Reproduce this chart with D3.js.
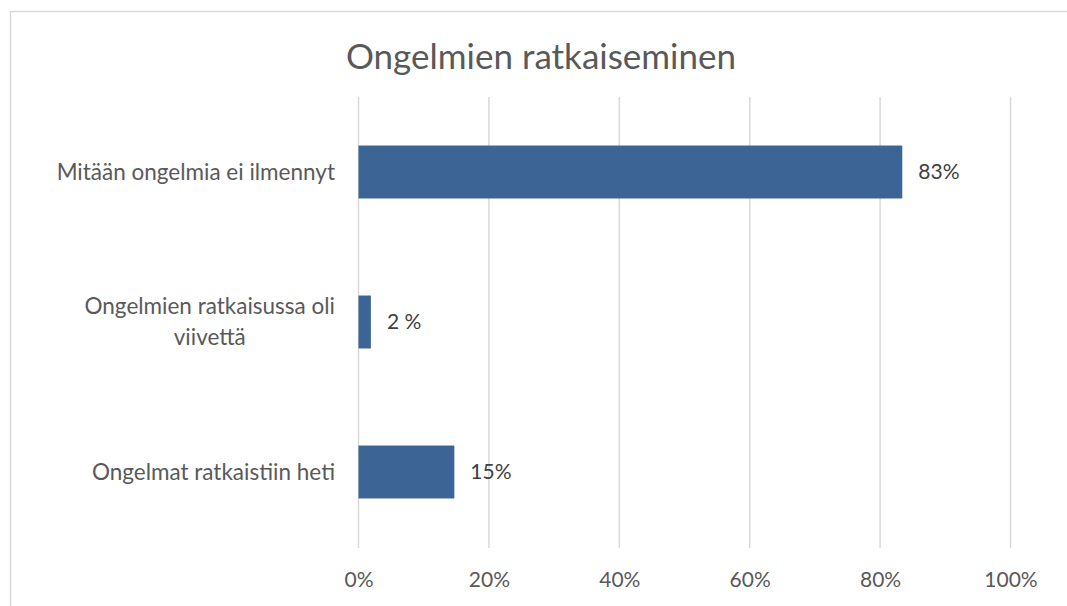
<!DOCTYPE html>
<html>
<head>
<meta charset="utf-8">
<script src="https://cdn.jsdelivr.net/npm/d3@7"></script>
<style>
  body { margin: 0; background: #fff; }
  svg { display: block; font-family: Lato, "Open Sans", sans-serif; }
</style>
</head>
<body>
<svg id="chart" width="1067" height="606"></svg>
<script>
// chart data
var chartTitle = "Ongelmien ratkaiseminen";
var categories = ["Mitään ongelmia ei ilmennyt", "Ongelmien ratkaisussa oli viivettä", "Ongelmat ratkaistiin heti"];
var values = [0.834, 0.019, 0.147];
var valueLabels = ["83%", "2 %", "15%"];
var ticks = [0, 0.2, 0.4, 0.6, 0.8, 1];

var svg = d3.select("#chart");
var grey = "#595959";

// outer frame of the chart (runs off the right/bottom of the picture)
svg.append("rect")
    .attr("x", 10.5).attr("y", 11.5)
    .attr("width", 1100).attr("height", 700)
    .attr("fill", "none").attr("stroke", "#d9d9d9").attr("stroke-width", 1.5);

var x = d3.scaleLinear().domain([0, 1]).range([358.5, 1010.5]);
var y = d3.scaleBand().domain(categories).range([97, 547])
    .paddingInner(0.647).paddingOuter(0.3235);

// vertical gridlines
svg.append("g").selectAll("line").data(ticks).enter()
    .append("line")
    .attr("x1", function(d) { return x(d); })
    .attr("x2", function(d) { return x(d); })
    .attr("y1", 97).attr("y2", 548)
    .attr("stroke", "#d9d9d9").attr("stroke-width", 1.5);

// x axis labels
var xAxis = d3.axisBottom(x).tickValues(ticks).tickFormat(d3.format(".0%")).tickSize(0).tickPadding(0);
var gx = svg.append("g").attr("transform", "translate(0,580)").call(xAxis);
gx.select(".domain").remove();
gx.selectAll("text")
    .attr("dy", "0.35em")
    .attr("fill", grey)
    .style("font-size", "21px")
    .style("font-family", "Lato, 'Open Sans', sans-serif");

// bars
svg.append("g").selectAll("rect").data(values).enter()
    .append("rect")
    .attr("x", x(0))
    .attr("y", function(d, i) { return y(categories[i]); })
    .attr("width", function(d) { return x(d) - x(0); })
    .attr("height", y.bandwidth())
    .attr("fill", "#3c6494");

// value labels
svg.append("g").selectAll("text").data(values).enter()
    .append("text")
    .attr("x", function(d) { return x(d) + 16; })
    .attr("y", function(d, i) { return y(categories[i]) + y.bandwidth() / 2; })
    .attr("dy", "0.35em")
    .attr("fill", "#404040")
    .style("font-size", "21px")
    .text(function(d, i) { return valueLabels[i]; });

// category labels, wrapped like excel does
var labelRight = 335;
var maxLabelWidth = 280;
var lineHeight = 31;
var catG = svg.append("g");
categories.forEach(function(c) {
    var t = catG.append("text")
        .attr("fill", grey)
        .style("font-size", "22.5px");
    var words = c.split(" ");
    var lines = [];
    var line = [];
    var probe = t.append("tspan");
    words.forEach(function(w) {
        line.push(w);
        probe.text(line.join(" "));
        if (probe.node().getComputedTextLength() > maxLabelWidth && line.length > 1) {
            line.pop();
            lines.push(line.join(" "));
            line = [w];
        }
    });
    lines.push(line.join(" "));
    probe.remove();

    var cy = y(c) + y.bandwidth() / 2;
    var top = cy - (lines.length - 1) * lineHeight / 2;
    var spans = lines.map(function(l, i) {
        return t.append("tspan").attr("y", top + i * lineHeight).attr("dy", "0.35em").text(l);
    });
    if (lines.length == 1) {
        t.attr("text-anchor", "end");
        spans[0].attr("x", labelRight);
    } else {
        var w = d3.max(spans, function(s) { return s.node().getComputedTextLength(); });
        t.attr("text-anchor", "middle");
        spans.forEach(function(s) { s.attr("x", labelRight - w / 2); });
    }
});

// title
svg.append("text")
    .attr("x", 541).attr("y", 57)
    .attr("dy", "0.35em")
    .attr("text-anchor", "middle")
    .attr("fill", grey)
    .style("font-size", "35px")
    .text(chartTitle);
</script>
</body>
</html>
